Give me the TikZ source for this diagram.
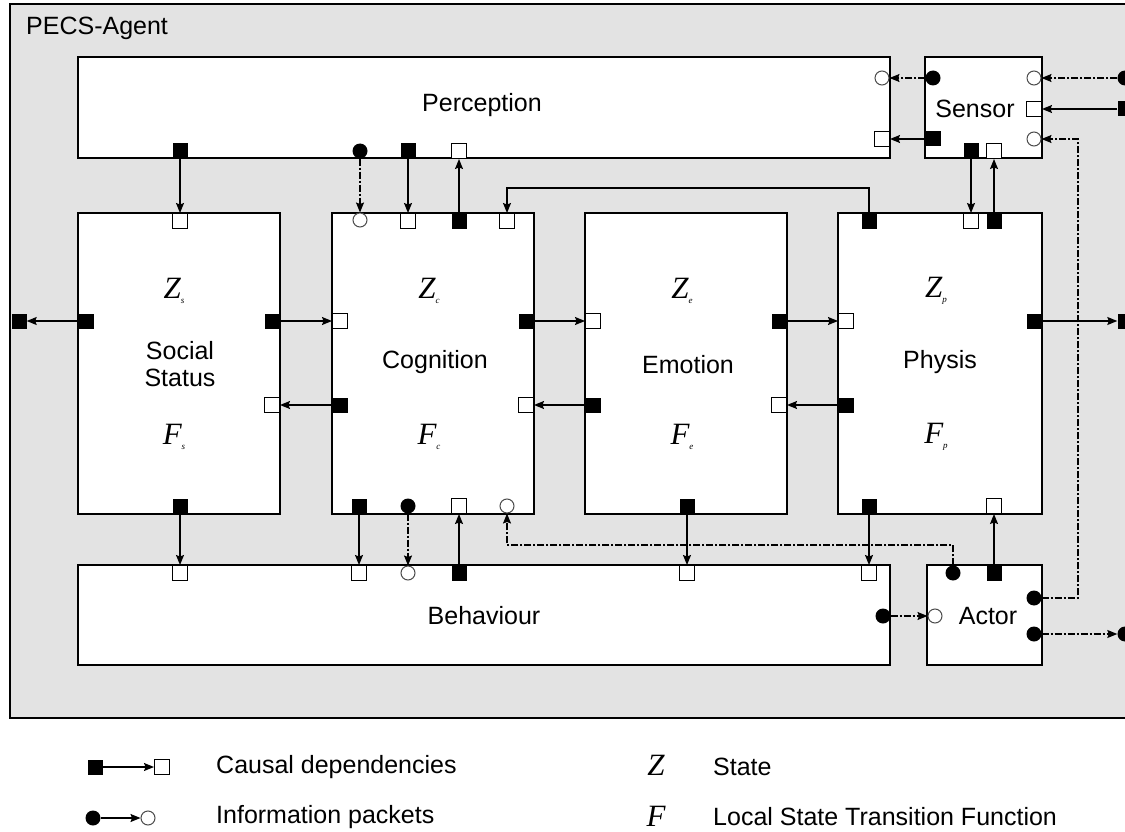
\documentclass[tikz,border=0pt]{standalone}
\usepackage{fontspec}
\setmainfont{Liberation Sans}
\newfontfamily\tms{Liberation Serif}
\usetikzlibrary{arrows.meta}
\tikzset{
  module/.style={draw=black, line width=1.3pt, fill=white},
  fsq/.style={rectangle, fill=black, minimum size=15pt, inner sep=0pt},
  osq/.style={rectangle, draw=black, line width=1pt, fill=white, minimum size=15pt, inner sep=0pt},
  fci/.style={circle, fill=black, minimum size=15pt, inner sep=0pt},
  oci/.style={circle, draw=black!70, line width=1pt, fill=white, minimum size=14pt, inner sep=0pt},
  causal/.style={line width=1.2pt, -{Stealth[length=10pt,width=8pt,inset=1.5pt]}},
  info/.style={line width=1.2pt, dash pattern=on 7pt off 2pt on 2pt off 2pt, -{Stealth[length=10pt,width=8pt,inset=1.5pt]}},
  lbl/.style={font=\fontsize{25}{29}\selectfont, inner sep=0pt},
}
\newcommand{\ZF}[2]{{\tms\itshape\fontsize{31}{31}\selectfont #1}\raisebox{-5pt}{\tms\itshape\fontsize{9}{9}\selectfont #2}}
\begin{document}
\begin{tikzpicture}[x=1pt,y=-1pt]
\useasboundingbox (0,0) rectangle (1125,832);
\fill[white] (0,0) rectangle (1125,832);
% outer agent box
\draw[line width=1.3pt, fill=black!11] (10,4) rectangle (1133,718);
\node[lbl, anchor=west] (title) at (26,28) {PECS-Agent};

% modules
\draw[module] (78,57) rectangle (890,158);
\draw[module] (925,57) rectangle (1042,158);
\draw[module] (78,213) rectangle (280,514);
\draw[module] (332,213) rectangle (534,514);
\draw[module] (585,213) rectangle (787,514);
\draw[module] (838,213) rectangle (1042,514);
\draw[module] (78,565) rectangle (890,665);
\draw[module] (927,565) rectangle (1042,665);

% labels
\node[lbl] (tperc) at (482,105) {Perception};
\node[lbl] (tsens) at (975,109) {Sensor};
\node[lbl, align=center] (tsoc) at (180,364) {Social\\[-2pt]Status};
\node[lbl] (tcog) at (435,362) {Cognition};
\node[lbl] (temo) at (688,365) {Emotion};
\node[lbl] (tphy) at (940,362) {Physis};
\node[lbl] (tbeh) at (484,616) {Behaviour};
\node[inner sep=0pt] (zs) at (174,291) {\ZF{Z}{s}};
\node[inner sep=0pt] (fs) at (174,437) {\ZF{F}{s}};
\node[inner sep=0pt] (zc) at (429,291) {\ZF{Z}{c}};
\node[inner sep=0pt] (fc) at (429,437) {\ZF{F}{c}};
\node[inner sep=0pt] (ze) at (682,291) {\ZF{Z}{e}};
\node[inner sep=0pt] (fe) at (682,437) {\ZF{F}{e}};
\node[inner sep=0pt] (zp) at (936,291) {\ZF{Z}{p}};
\node[inner sep=0pt] (fp) at (936,437) {\ZF{F}{p}};

% Perception ports
\node[oci] (Poc1) at (882,78) {};
\node[osq] (Pos1) at (882,139) {};
\node[fsq] (Pfs1) at (180,151) {};
\node[fci] (Pfc1) at (360,151) {};
\node[fsq] (Pfs2) at (408,151) {};
\node[osq] (Pos2) at (459,151) {};
% Sensor ports
\node[fci] (Sfc1) at (933,78) {};
\node[fsq] (Sfs1) at (933,139) {};
\node[oci] (Soc1) at (1034,78) {};
\node[osq] (Sos1) at (1034,109) {};
\node[oci] (Soc2) at (1034,139) {};
\node[fsq] (Sfs2) at (971,151) {};
\node[osq] (Sos2) at (994,151) {};
% outside ports
\node[fci] (Xfc1) at (1125,78) {};
\node[fsq] (Xfs1) at (1125,109) {};
\node[fsq] (Xfs2) at (19,321) {};
\node[fsq] (Xfs3) at (1125,321) {};
\node[fci] (Xfc2) at (1125,634) {};
% Social ports
\node[osq] (SSos1) at (180,221) {};
\node[fsq] (SSfs1) at (86,321) {};
\node[fsq] (SSfs2) at (272,321) {};
\node[osq] (SSos2) at (272,405) {};
\node[fsq] (SSfs3) at (180,506) {};
% Cognition ports
\node[oci] (Coc1) at (360,220) {};
\node[osq] (Cos1) at (408,221) {};
\node[fsq] (Cfs1) at (459,221) {};
\node[osq] (Cos2) at (507,221) {};
\node[osq] (Cos3) at (340,321) {};
\node[fsq] (Cfs2) at (340,405) {};
\node[fsq] (Cfs3) at (526,321) {};
\node[osq] (Cos4) at (526,405) {};
\node[fsq] (Cfs4) at (359,506) {};
\node[fci] (Cfc1) at (408,506) {};
\node[osq] (Cos5) at (459,506) {};
\node[oci] (Coc2) at (507,506) {};
% Emotion ports
\node[osq] (Eos1) at (593,321) {};
\node[fsq] (Efs1) at (593,405) {};
\node[fsq] (Efs2) at (779,321) {};
\node[osq] (Eos2) at (779,405) {};
\node[fsq] (Efs3) at (687,506) {};
% Physis ports
\node[osq] (Phos1) at (846,321) {};
\node[fsq] (Phfs1) at (846,405) {};
\node[fsq] (Phfs2) at (869,221) {};
\node[osq] (Phos2) at (971,221) {};
\node[fsq] (Phfs3) at (994,221) {};
\node[fsq] (Phfs4) at (1034,321) {};
\node[fsq] (Phfs5) at (869,506) {};
\node[osq] (Phos3) at (994,506) {};
% Behaviour ports
\node[osq] (Bos1) at (180,573) {};
\node[osq] (Bos2) at (359,573) {};
\node[oci] (Boc1) at (408,573) {};
\node[fsq] (Bfs1) at (459,573) {};
\node[osq] (Bos3) at (687,573) {};
\node[osq] (Bos4) at (869,573) {};
\node[fci] (Bfc1) at (883,616) {};
% Actor ports
\node[oci] (Aoc1) at (935,616) {};
\node[fci] (Afc1) at (953,573) {};
\node[fsq] (Afs1) at (994,573) {};
\node[fci] (Afc2) at (1034,598) {};
\node[fci] (Afc3) at (1034,634) {};
\node[lbl] (tact) at (988,616) {Actor};

% bend coordinates
\coordinate (k1) at (869,188);
\coordinate (k2) at (1078,139);
\coordinate (k3) at (953,545);

% causal dependencies
\draw[causal] (Pfs1.south) -- (SSos1.north);
\draw[causal] (Pfs2.south) -- (Cos1.north);
\draw[causal] (Cfs1.north) -- (Pos2.south);
\draw[causal] (Sfs1.west) -- (Pos1.east);
\draw[causal] (Sfs2.south) -- (Phos2.north);
\draw[causal] (Phfs3.north) -- (Sos2.south);
\draw[causal] (Xfs1.west) -- (Sos1.east);
\draw[causal] (Phfs2.north) -- (k1) -| (Cos2.north);
\draw[causal] (SSfs1.west) -- (Xfs2.east);
\draw[causal] (SSfs2.east) -- (Cos3.west);
\draw[causal] (Cfs2.west) -- (SSos2.east);
\draw[causal] (Cfs3.east) -- (Eos1.west);
\draw[causal] (Efs1.west) -- (Cos4.east);
\draw[causal] (Efs2.east) -- (Phos1.west);
\draw[causal] (Phfs1.west) -- (Eos2.east);
\draw[causal] (Phfs4.east) -- (Xfs3.west);
\draw[causal] (SSfs3.south) -- (Bos1.north);
\draw[causal] (Cfs4.south) -- (Bos2.north);
\draw[causal] (Bfs1.north) -- (Cos5.south);
\draw[causal] (Efs3.south) -- (Bos3.north);
\draw[causal] (Phfs5.south) -- (Bos4.north);
\draw[causal] (Afs1.north) -- (Phos3.south);

% information packets
\draw[info] (Sfc1.west) -- (Poc1.east);
\draw[info] (Xfc1.west) -- (Soc1.east);
\draw[info] (Afc2.east) -| (k2) -- (Soc2.east);
\draw[info] (Afc3.east) -- (Xfc2.west);
\draw[info] (Pfc1.south) -- (Coc1.north);
\draw[info] (Cfc1.south) -- (Boc1.north);
\draw[info] (Afc1.north) -- (k3) -| (Coc2.south);
\draw[info] (Bfc1.east) -- (Aoc1.west);

% legend
\node[fsq] (L1a) at (95,767) {};
\node[osq] (L1b) at (162,767) {};
\draw[causal] (L1a.east) -- (L1b.west);
\node[fci] (L2a) at (93,818) {};
\node[oci] (L2b) at (148,818) {};
\draw[line width=1.2pt, -{Stealth[length=10pt,width=8pt,inset=1.5pt]}] (L2a.east) -- (L2b.west);
\node[lbl, anchor=west] (L1t) at (216,767) {Causal dependencies};
\node[lbl, anchor=west] (L2t) at (216,817) {Information packets};
\node[inner sep=0pt] (LZ) at (656,765) {\tms\itshape\fontsize{31}{31}\selectfont Z};
\node[inner sep=0pt] (LF) at (656,816) {\tms\itshape\fontsize{31}{31}\selectfont F};
\node[lbl, anchor=west] (L3t) at (713,767) {State};
\node[lbl, anchor=west] (L4t) at (713,817) {Local State Transition Function};
\end{tikzpicture}
\end{document}
